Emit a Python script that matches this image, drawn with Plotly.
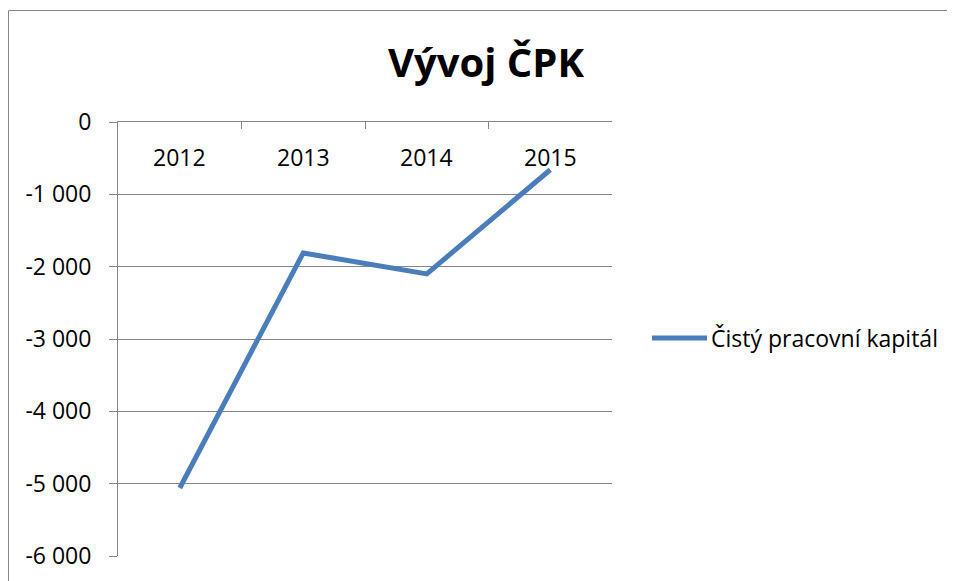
import plotly.graph_objects as go

years = ["2012", "2013", "2014", "2015"]
cpk = [-5060, -1810, -2100, -660]
y_ticks = [0, -1000, -2000, -3000, -4000, -5000, -6000]
y_tick_labels = ["0", "-1 000", "-2 000", "-3 000", "-4 000", "-5 000", "-6 000"]
series_name = "Čistý pracovní kapitál"
title_text = "Vývoj ČPK"

OFF = 8  # page body margin
W, H = 955, 581
L, R, T, B = 118 - OFF, 612 - OFF, 122 - OFF, 556 - OFF
pw, ph = R - L, B - T
blue = "#4A7EBB"
gray = "#868686"
font_family = "Open Sans, Liberation Sans, sans-serif"
fs = 23


def px(xp):
    return (xp - OFF - L) / pw


def py(yp):
    return (B - (yp - OFF)) / ph


fig = go.Figure()
fig.add_trace(go.Scatter(
    x=years, y=cpk, mode="lines", name=series_name,
    line=dict(color=blue, width=5), showlegend=False,
))

annotations = [
    dict(text="<b>" + title_text + "</b>", xref="paper", yref="paper",
         x=px(486), y=py(62), xanchor="center", yanchor="middle",
         showarrow=False, font=dict(size=40, family=font_family, color="black")),
    dict(text=series_name, xref="paper", yref="paper",
         x=px(709), y=py(338), xanchor="left", yanchor="middle",
         showarrow=False, font=dict(size=fs, family=font_family, color="black")),
]
for i, yr in enumerate(years):
    annotations.append(dict(text=yr, xref="x", yref="paper", x=i, y=py(157),
                            xanchor="center", yanchor="middle", showarrow=False,
                            font=dict(size=fs, family=font_family, color="black")))

fig.update_layout(
    width=W, height=H,
    margin=dict(l=L, r=W - R, t=T, b=H - B, pad=0),
    paper_bgcolor="white", plot_bgcolor="white",
    font=dict(family=font_family, size=fs, color="black"),
    xaxis=dict(
        type="category", side="top", tickson="boundaries",
        ticks="inside", ticklen=7, tickcolor=gray, tickwidth=1,
        showticklabels=False,
        showline=True, linecolor=gray, linewidth=1,
        showgrid=False, zeroline=False, range=[-0.5, 3.5],
    ),
    yaxis=dict(
        range=[-6000, 0], tickvals=y_ticks, ticktext=y_tick_labels,
        ticks="outside", ticklen=8, tickcolor=gray, tickwidth=1,
        showline=True, linecolor=gray, linewidth=1,
        showgrid=True, gridcolor=gray, gridwidth=1, zeroline=False,
        ticklabelstandoff=13, tickfont=dict(size=fs, color="black"),
    ),
    annotations=annotations,
    shapes=[
        dict(type="line", xref="paper", yref="paper",
             x0=px(652), x1=px(707), y0=py(338), y1=py(338),
             line=dict(color=blue, width=5)),
        dict(type="rect", xref="paper", yref="paper",
             x0=px(8.5), x1=2.0, y0=-1.0, y1=py(10.5),
             line=dict(color=gray, width=1), layer="below"),
    ],
)

fig.write_html("out.html")
